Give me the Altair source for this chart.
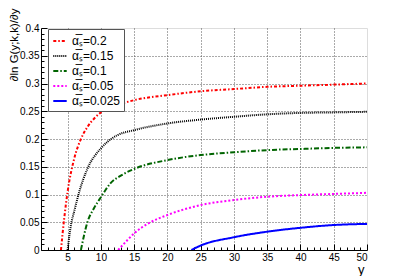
import altair as alt
import pandas as pd

labels = ["\u03b1\u0305\u209b=0.2", "\u03b1\u0305\u209b=0.15", "\u03b1\u0305\u209b=0.1",
          "\u03b1\u0305\u209b=0.05", "\u03b1\u0305\u209b=0.025"]
colors = ["#ff0000", "#000000", "#006400", "#ff00ff", "#0000ff"]
dashes = [[3, 2, 1.5, 2], [1, 1], [5, 2, 1.5, 2], [2, 2], [1, 0]]

red_y = [4, 4.5, 5, 6, 7, 8, 9, 10, 12, 15, 20, 25, 30, 35, 40, 45, 50]
red_v = [0, 0.058, 0.105, 0.165, 0.2, 0.222, 0.237, 0.248, 0.259, 0.270, 0.279, 0.286, 0.290, 0.294, 0.296, 0.298, 0.300]
black_y = [5, 5.5, 6, 6.75, 8, 10, 11, 12.5, 15, 20, 25, 30, 35, 40, 45, 50]
black_v = [0, 0.045, 0.07, 0.105, 0.147, 0.183, 0.195, 0.207, 0.216, 0.228, 0.235, 0.240, 0.2445, 0.247, 0.248, 0.249]
green_y = [7, 8, 9, 10, 11.5, 13, 15, 20, 25, 30, 35, 40, 45, 50]
green_v = [0, 0.051, 0.076, 0.095, 0.121, 0.134, 0.146, 0.162, 0.171, 0.176, 0.180, 0.182, 0.184, 0.185]
mag_y = [12.6, 14, 15, 17, 20, 25, 30, 35, 40, 45, 50]
mag_v = [0, 0.018, 0.030, 0.047, 0.063, 0.081, 0.090, 0.096, 0.099, 0.101, 0.103]
blue_y = [23.6, 25, 30, 35, 40, 45, 50]
blue_v = [0, 0.008, 0.023, 0.033, 0.040, 0.045, 0.047]

x_major = [5, 10, 15, 20, 25, 30, 35, 40, 45, 50]
x_minor = [v for v in range(2, 50) if v % 5 != 0]
y_major = [0, 0.05, 0.1, 0.15, 0.2, 0.25, 0.3, 0.35, 0.4]
y_minor = [round(i * 0.01, 2) for i in range(1, 40) if i % 5 != 0]

rows = []
for lab, ys, vs in zip(labels, [red_y, black_y, green_y, mag_y, blue_y],
                       [red_v, black_v, green_v, mag_v, blue_v]):
    for i, (a, b) in enumerate(zip(ys, vs)):
        rows.append({"series": lab, "y": a, "v": b, "o": i})
df = pd.DataFrame(rows)

FONT = "Liberation Sans"
xs = alt.Scale(domain=[1, 50], nice=False, zero=False)
ys_ = alt.Scale(domain=[0, 0.4], nice=False)

lines = alt.Chart(df).mark_line(strokeWidth=2, interpolate="monotone", clip=True).encode(
    x=alt.X("y:Q", scale=xs, axis=alt.Axis(orient="bottom", values=x_major[:-1], labels=False, ticks=False,
                                             domain=True, domainColor="black", grid=True,
                                             gridDash=[1, 2], gridColor="#555",
                                             title="y", titleFont=FONT, titleFontSize=13,
                                             titleFontWeight="normal", titleAlign="right",
                                             titleBaseline="alphabetic", titleX=323, titleY=23,
                                             titleAngle=0)),
    y=alt.Y("v:Q", scale=ys_, axis=alt.Axis(orient="left", values=y_major[1:-1], labels=False, ticks=False,
                                              domain=True, domainColor="black", grid=True,
                                              gridDash=[1, 2], gridColor="#555",
                                              title="\u2202ln G(y;k,k)/\u2202y", titleFont=FONT,
                                              titleFontSize=11.5, titleFontWeight="normal",
                                              titleAngle=270, titleAlign="right", titleBaseline="top",
                                              titleX=-33, titleY=-20)),
    color=alt.Color("series:N", scale=alt.Scale(domain=labels, range=colors),
                    legend=alt.Legend(title=None, orient="none", legendX=7, legendY=1,
                                      strokeColor="#555", fillColor="white", padding=4,
                                      labelFont=FONT, labelFontSize=12, labelColor="black",
                                      symbolType="stroke", symbolStrokeWidth=2, symbolSize=180,
                                      rowPadding=1, labelOffset=4)),
    strokeDash=alt.StrokeDash("series:N", scale=alt.Scale(domain=labels, range=dashes)),
    order="o:Q",
)

major = alt.Chart(df).mark_point(opacity=0).encode(
    x=alt.X("y:Q", scale=xs, axis=alt.Axis(orient="bottom", values=x_major, tickSize=6, offset=-6,
                                             domain=False, grid=False, tickColor="black", format="~g",
                                             labelFont=FONT, labelFontSize=10, labelColor="black",
                                             labelPadding=2, title=None)),
    y=alt.Y("v:Q", scale=ys_, axis=alt.Axis(orient="left", values=y_major, tickSize=6, offset=-6,
                                              domain=False, grid=False, tickColor="black", format="~g",
                                              labelFont=FONT, labelFontSize=10, labelColor="black",
                                              labelPadding=2, title=None)),
)

minor = alt.Chart(df).mark_point(opacity=0).encode(
    x=alt.X("y:Q", scale=xs, axis=alt.Axis(orient="bottom", values=x_minor, tickSize=3, offset=-3,
                                             domain=False, grid=False, labels=False, tickColor="black",
                                             title=None)),
    y=alt.Y("v:Q", scale=ys_, axis=alt.Axis(orient="left", values=y_minor, tickSize=3, offset=-3,
                                              domain=False, grid=False, labels=False, tickColor="black",
                                              title=None)),
)

chart = alt.layer(lines, major, minor).resolve_axis(x="independent", y="independent").properties(
    width=326, height=222, autosize=alt.AutoSizeParams(type="none"),
    padding={"left": 33, "top": 20, "right": 32, "bottom": 26},
).configure_view(stroke="#777", strokeWidth=1).configure(background="white")

chart.save("out.html", embed_options={"renderer": "svg", "actions": False})
